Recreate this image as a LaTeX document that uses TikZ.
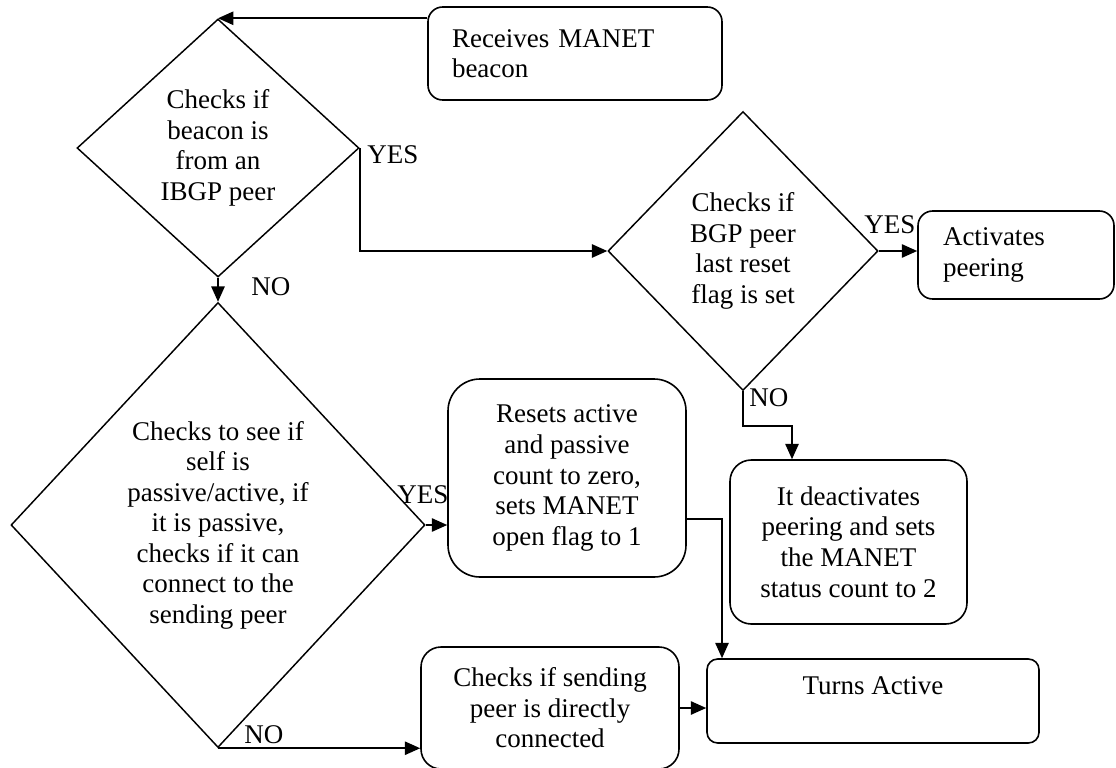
\documentclass[tikz,border=0pt]{standalone}
\usepackage{fontspec}
\setmainfont{Liberation Serif}
\usetikzlibrary{shapes.geometric,arrows.meta,calc}
\begin{document}
\begin{tikzpicture}[x=0.75pt,y=-0.75pt,
 every node/.style={font=\fontsize{20.25}{22.9}\selectfont, inner sep=0pt},
 arr/.style={line width=1.2pt,-{Triangle[length=11.5pt,width=10pt]}},
 dia/.style={diamond, draw, line width=1.1pt, aspect=1, align=center},
 box/.style={rectangle, draw, line width=1.2pt},
 lbl/.style={anchor=west}]
\useasboundingbox (0,0) rectangle (1116,767);

\node[box, rounded corners=11pt, minimum width=220.5pt, minimum height=69.75pt, text width=184.5pt, align=left] (A) at (575,53.5) {Receives MANET\\beacon};
\node[box, rounded corners=11pt, minimum width=147pt, minimum height=66pt, text width=109.5pt, align=left] (Act) at (1016,255) {Activates\\peering};
\node[box, rounded corners=24pt, minimum width=178.5pt, minimum height=148.5pt, align=center] (R) at (567,478) {Resets active\\and passive\\count to zero,\\sets MANET\\open flag to 1};
\node[box, rounded corners=16pt, minimum width=177.75pt, minimum height=123pt, align=center] (Dx) at (848.5,542) {It deactivates\\peering and sets\\the MANET\\status count to 2};
\node[box, rounded corners=8pt, minimum width=249pt, minimum height=63pt, align=center] (T) at (873,701) {Turns Active\\\mbox{}};
\node[box, rounded corners=15pt, minimum width=193.5pt, minimum height=91.5pt, align=center] (S) at (550,708) {Checks if sending\\peer is directly\\connected};

\node[dia, minimum width=211.5pt, minimum height=193.5pt] (D1) at (218,148) {Checks if\\beacon is\\from an\\IBGP peer};
\node[dia, minimum width=202.5pt, minimum height=209.25pt] (D2) at (743,251) {Checks if\\BGP peer\\last reset\\flag is set};
\node[dia, minimum width=310.5pt, minimum height=333.75pt] (D3) at (218,525) {Checks to see if\\self is\\passive/active, if\\it is passive,\\checks if it can\\connect to the\\sending peer};

\coordinate (k1) at (792,426);
\coordinate (k2) at (722,519);

\draw[arr] (A.west |- D1.north) -- (D1.north);
\draw[arr] (D1.east) |- (D2.west);
\draw[arr] (D1.south) -- (D3.north);
\draw[arr] (D2.east) -- (D2.east -| Act.west);
\draw[arr] (D2.south) |- (k1) -- (k1 |- Dx.north);
\draw[arr] (D3.east) -- (D3.east -| R.west);
\draw[arr] (k2 -| R.east) -- (k2) -- (k2 |- T.north);
\draw[arr] (D3.south) -- (D3.south -| S.west);
\draw[arr] (S.east) -- (S.east -| T.west);

\node[lbl] (y1) at (367,155) {YES};
\node[lbl] (n1) at (251,287) {NO};
\node[lbl] (y2) at (864,225) {YES};
\node[lbl] (n2) at (749,398) {NO};
\node[lbl] (y3) at (397,495) {YES};
\node[lbl] (n3) at (244,735) {NO};
\end{tikzpicture}
\end{document}
